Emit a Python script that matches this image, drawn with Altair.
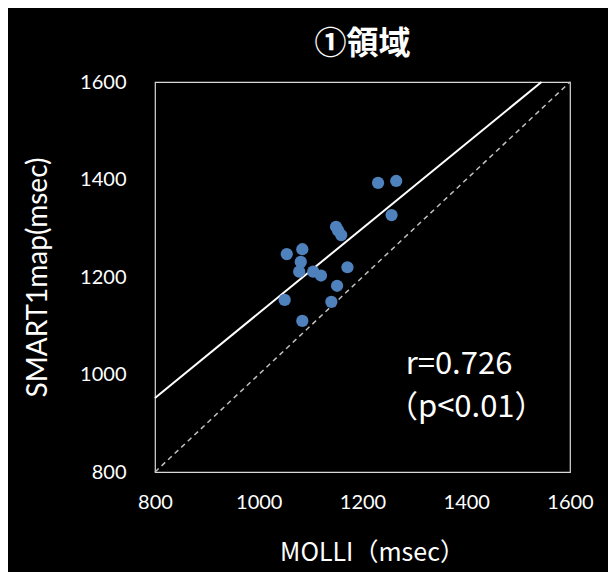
import altair as alt
import pandas as pd

# Data
molli = [1054, 1084, 1081, 1078, 1105, 1120, 1171, 1151, 1050, 1140, 1084, 1149, 1153, 1159, 1230, 1265, 1256]
smart = [1247, 1257, 1231, 1211, 1211, 1203, 1220, 1182, 1153, 1149, 1110, 1303, 1295, 1286, 1393, 1397, 1327]

reg_x = [800, 1545]
reg_y = [952, 1600]
id_x = [800, 1600]
id_y = [800, 1600]

ann_text = ["r=0.726", "（p<0.01）"]
ann_x = [1386, 1400]
ann_y = [1020, 932]

pts = pd.DataFrame({"x": molli, "y": smart})
reg = pd.DataFrame({"x": reg_x, "y": reg_y})
ident = pd.DataFrame({"x": id_x, "y": id_y})
ann = pd.DataFrame({"x": ann_x, "y": ann_y, "t": ann_text})

font = "Lato"
xs = alt.Scale(domain=[800, 1600], nice=False)
ys = alt.Scale(domain=[800, 1600], nice=False)

xaxis = alt.Axis(values=[800, 1000, 1200, 1400, 1600], format="d", grid=False, ticks=False, domain=False,
                 labelColor="white", labelFont=font, labelFontSize=20, labelPadding=20,
                 title="MOLLI（msec）", titleColor="white", titleFont="Noto Sans CJK JP",
                 titleFontSize=25, titleFontWeight="normal", titleX=217, titleY=80,
                 titleBaseline="middle", labelFlush=False)
yaxis = alt.Axis(values=[800, 1000, 1200, 1400, 1600], format="d", grid=False, ticks=False, domain=False,
                 labelColor="white", labelFont=font, labelFontSize=20, labelPadding=29,
                 title="SMART1map(msec)", titleColor="white", titleFont=font,
                 titleFontSize=28, titleFontWeight="normal", titleX=-117, titleY=195,
                 titleAngle=-90, titleBaseline="middle", titleAlign="center", labelFlush=False)

base_pts = alt.Chart(pts).mark_circle(size=150, opacity=1, color="#4f81bd").encode(
    x=alt.X("x:Q", scale=xs, axis=xaxis),
    y=alt.Y("y:Q", scale=ys, axis=yaxis),
)

id_line = alt.Chart(ident).mark_line(color="#bfbfbf", strokeDash=[5, 4], strokeWidth=1.5).encode(
    x=alt.X("x:Q", scale=xs), y=alt.Y("y:Q", scale=ys)
)
reg_line = alt.Chart(reg).mark_line(color="white", strokeWidth=2).encode(
    x=alt.X("x:Q", scale=xs), y=alt.Y("y:Q", scale=ys)
)
text = alt.Chart(ann).mark_text(color="white", font="Noto Sans CJK JP", fontSize=31, align="center",
                                baseline="middle").encode(
    x=alt.X("x:Q", scale=xs), y=alt.Y("y:Q", scale=ys), text="t:N"
)

chart = alt.layer(id_line, reg_line, base_pts, text).properties(
    width=415, height=390,
    title=alt.TitleParams("①領域", color="white", font="Noto Sans CJK JP", fontSize=32,
                          fontWeight="bold", anchor="middle", offset=11),
    background="black",
    autosize=alt.AutoSizeParams(type="none"),
    padding={"left": 147, "top": 74, "right": 38, "bottom": 100},
).configure_view(stroke="#d9d9d9", strokeWidth=1.2)

chart.save("out.html", embed_options={"renderer": "svg", "actions": False})
